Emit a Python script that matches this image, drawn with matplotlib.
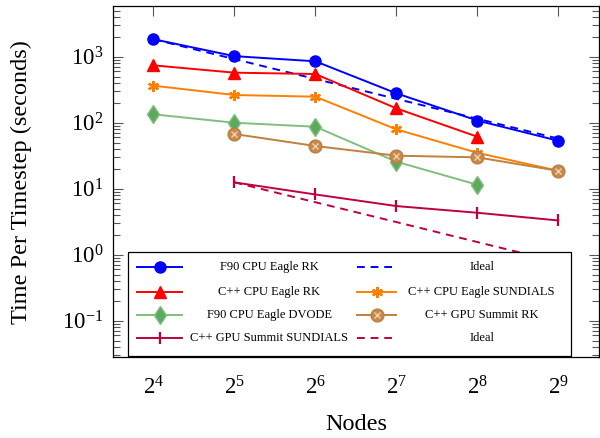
import matplotlib
matplotlib.use("Agg")
import matplotlib.pyplot as plt
from matplotlib.lines import Line2D
from matplotlib.patches import Rectangle
from matplotlib.ticker import FixedLocator, FixedFormatter, NullLocator, LogLocator

plt.rcParams["font.family"] = ["Liberation Serif", "DejaVu Serif"]
plt.rcParams["mathtext.fontset"] = "custom"
plt.rcParams["mathtext.rm"] = "Liberation Serif"
plt.rcParams["mathtext.it"] = "Liberation Serif:italic"

# nodes
NODES_ALL = [16, 32, 64, 128, 256, 512]
NODES_TO256 = [16, 32, 64, 128, 256]
NODES_FROM32 = [32, 64, 128, 256, 512]

# time per timestep (seconds)
F90_RK = [1840, 1020, 852, 279, 108, 53.3]
IDEAL_CPU = [1840, 920, 460, 230, 115, 57.5]
CPP_RK = [740, 573, 547, 165, 61.4]
CPP_SUNDIALS = [364, 263, 248, 79.4, 35, 18.7]
F90_DVODE = [134, 100, 87, 25.7, 11.5]
GPU_RK = [67.5, 44.4, 31.7, 29.9, 18.7]
GPU_SUNDIALS = [12.5, 8.2, 5.47, 4.33, 3.31]
IDEAL_GPU = [12.5, 6.25, 3.13, 1.56, 0.78]

XTICKS = [16, 32, 64, 128, 256, 512]
XTICKLABELS = [r"$2^{4}$", r"$2^{5}$", r"$2^{6}$", r"$2^{7}$", r"$2^{8}$", r"$2^{9}$"]

BLUE = "#0000ff"
RED = "#ff0000"
ORANGE = "#ff8000"
GREEN = "#7fbf7f"
BROWN = "#bf8040"
PURPLE = "#bf0040"

# (x, y, label, styles) ; styles is list of plot kwargs (overlay for otimes)
SERIES = [
    (NODES_ALL, F90_RK, "F90 CPU Eagle RK",
     [dict(color=BLUE, lw=1.4, marker="o", ms=8, mfc=BLUE, mec=BLUE)]),
    (NODES_ALL, IDEAL_CPU, "Ideal",
     [dict(color=BLUE, lw=1.4, ls=(0, (4, 3)))]),
    (NODES_TO256, CPP_RK, "C++ CPU Eagle RK",
     [dict(color=RED, lw=1.4, marker="^", ms=8, mfc=RED, mec=RED)]),
    (NODES_ALL, CPP_SUNDIALS, "C++ CPU Eagle SUNDIALS",
     [dict(color=ORANGE, lw=1.4, marker=(6, 2, 0), ms=8, mew=1.6, mec=ORANGE)]),
    (NODES_TO256, F90_DVODE, "F90 CPU Eagle DVODE",
     [dict(color=GREEN, lw=1.4, marker="d", ms=9.5, mfc="#5fa95f", mec=GREEN)]),
    (NODES_FROM32, GPU_RK, "C++ GPU Summit RK",
     [dict(color=BROWN, lw=1.4, marker="o", ms=9, mfc="#c98a4e", mec=BROWN, mew=1.2),
      dict(color=BROWN, lw=0, marker="x", ms=4.5, mec="#ecd2b0", mew=1.0)]),
    (NODES_FROM32, GPU_SUNDIALS, "C++ GPU Summit SUNDIALS",
     [dict(color=PURPLE, lw=1.4, marker="|", ms=8, mew=1.6, mec=PURPLE)]),
    (NODES_FROM32, IDEAL_GPU, "Ideal",
     [dict(color=PURPLE, lw=1.4, ls=(0, (4, 3)))]),
]

fig = plt.figure(figsize=(6.0, 4.38), dpi=100)
ax = fig.add_axes([0.1883, 0.1842, 0.8097, 0.8014])

draw_order = [1, 7, 0, 2, 3, 4, 5, 6]
for i in draw_order:
    xs, ys, label, styles = SERIES[i]
    for st in styles:
        ax.plot(xs, ys, zorder=3, **st)

ax.set_xscale("log", base=2)
ax.set_yscale("log")
ax.set_xlim(2 ** 3.5, 2 ** 9.5)
ax.set_ylim(0.028, 5800)

ax.xaxis.set_major_locator(FixedLocator(XTICKS))
ax.xaxis.set_major_formatter(FixedFormatter(XTICKLABELS))
ax.xaxis.set_minor_locator(NullLocator())
ax.yaxis.set_major_locator(LogLocator(base=10, numticks=20))
ax.yaxis.set_minor_locator(LogLocator(base=10, subs=range(2, 10), numticks=50))

ax.tick_params(which="both", direction="in", top=True, right=True,
               color="#555555", width=0.8)
ax.tick_params(which="major", length=7, labelsize=16.5)
ax.tick_params(axis="x", which="major", pad=14)
ax.tick_params(axis="y", which="major", pad=7)
ax.tick_params(which="minor", length=5)
for s in ax.spines.values():
    s.set_linewidth(0.9)

ax.set_xlabel("Nodes", fontsize=17.5, labelpad=10)
ax.set_ylabel("Time Per Timestep (seconds)", fontsize=17.5, labelpad=22)

# legend box drawn by hand so the labels are centred like pgfplots
ax.add_patch(Rectangle((0.0309, 0.0046), 0.9115, 0.2963, transform=ax.transAxes,
                       facecolor="white", edgecolor="black", lw=0.9, zorder=5))
col_handle = [(0.050, 0.1426), (0.5027, 0.5835)]
col_text = [0.322, 0.759]
row_y = [0.2564, 0.1869, 0.1205, 0.0541]
for k, (xs, ys, label, styles) in enumerate(SERIES):
    r, c = divmod(k, 2)
    x0, x1 = col_handle[c]
    y = row_y[r]
    for st in styles:
        line_kw = {kk: v for kk, v in st.items() if kk not in ("marker", "ms", "mfc", "mec", "mew")}
        if st.get("lw", 1) > 0:
            ax.add_line(Line2D([x0, x1], [y, y], transform=ax.transAxes, zorder=6,
                               clip_on=False, **line_kw))
        if "marker" in st:
            mk = {kk: v for kk, v in st.items() if kk in ("marker", "ms", "mfc", "mec", "mew")}
            ax.add_line(Line2D([(x0 + x1) / 2], [y], transform=ax.transAxes, zorder=7,
                               clip_on=False, lw=0, **mk))
    ax.text(col_text[c], y, label, transform=ax.transAxes, ha="center", va="center",
            fontsize=9, zorder=7)

fig.savefig("out.png", dpi=100)
